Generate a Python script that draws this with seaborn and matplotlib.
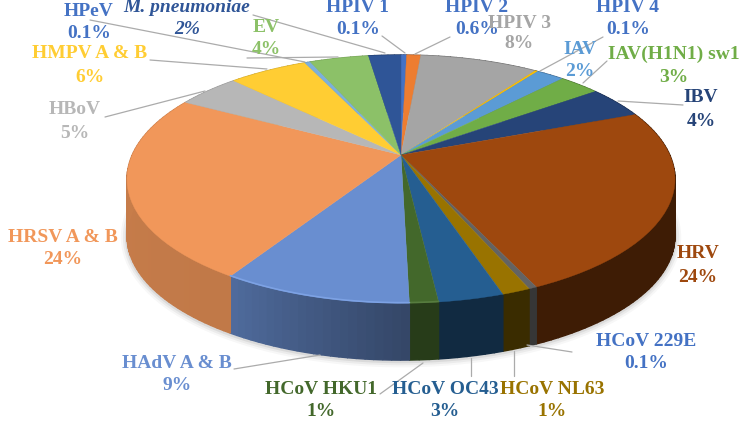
import numpy as np
import matplotlib
matplotlib.use('Agg')
import matplotlib.pyplot as plt
from matplotlib.colors import to_rgb
from matplotlib.transforms import Transform
import seaborn as sns

# slices clockwise from the top, sizes
names = ['HPIV 1', 'HPIV 2', 'HPIV 3', 'HPIV 4', 'IAV', 'IAV(H1N1) sw1', 'IBV', 'HRV',
         'HCoV 229E', 'HCoV NL63', 'HCoV OC43', 'HCoV HKU1', 'HAdV A & B', 'HRSV A & B',
         'HBoV', 'HMPV A & B', 'HPeV', 'EV', 'M. pneumoniae']
sizes = [0.4, 1.0, 8.4, 0.2, 2.0, 2.9, 4.2, 24.1, 0.4, 1.4, 3.2, 1.4, 9.3, 24.1, 4.5, 5.6, 0.4, 4.2, 2.3]
percents = ['0.1%', '0.6%', '8%', '0.1%', '2%', '3%', '4%', '24%', '0.1%', '1%', '3%', '1%',
            '9%', '24%', '5%', '6%', '0.1%', '4%', '2%']

colors = ['#4472C4', '#ED7D31', '#A5A5A5', '#FFC000', '#5B9BD5', '#70AD47', '#264478', '#9E480E',
          '#636363', '#997300', '#255E91', '#43682B', '#698ED0', '#F1975A', '#B7B7B7', '#FFCD33',
          '#7CAFDD', '#8CC168', '#2F5597']
text_colors = ['#4472C4', '#4472C4', '#A5A5A5', '#4472C4', '#5B9BD5', '#70AD47', '#264478', '#9E480E',
               '#4472C4', '#997300', '#255E91', '#43682B', '#698ED0', '#F1975A', '#B7B7B7', '#FFCD33',
               '#4472C4', '#8CC168', '#2F5597']
# how dark the side wall is at the start and end of each slice
wall_start = [.6, .6, .6, .6, .6, .6, .6, .39, .55, .38, .45, .58, .50, .80, .8, .8, .8, .8, .6]
wall_end = [.6, .6, .6, .6, .6, .6, .6, .39, .55, .38, .45, .58, .76, .84, .8, .8, .8, .8, .6]

# label centres in pixels
label_x = [358, 477, 519, 628, 580, 674, 701, 698, 646, 552, 445, 321, 177, 63, 75, 90, 89, 266, 187]
name_y = [7, 7, 23, 7, 49, 54, 98, 254, 341, 389, 389, 389, 363, 237, 110, 54, 11, 27, 7]
pct_y = [30, 30, 44, 30, 72, 77, 121, 277, 363, 412, 412, 412, 385, 259, 133, 77, 33, 49, 30]

leaders = [((382, 405), (36, 53)), ((450, 415), (37, 54)), ((603, 540), (37, 71)),
           ((607, 583), (61, 83)), ((683, 618), (105, 101)), ((572, 527), (352, 345)),
           ((514, 514), (376, 351)), ((471, 471), (376, 358)), ((380, 423), (394, 363)),
           ((234, 320), (369, 355)), ((105, 205), (117, 91)), ((150, 267), (60, 69)),
           ((90, 305), (20, 62)), ((247, 338), (58, 57)), ((253, 385), (15, 53))]

CX, CY = 401, 155
A, B, K = 268.8, 119.4, 0.194
DEPTH = 57


class Tilt(Transform):
    # unit disc -> tilted disc in pixels, back of the pie further away
    input_dims = 2
    output_dims = 2
    is_separable = False
    has_inverse = False

    def transform_non_affine(self, values):
        values = np.asarray(values)
        w = 1 + K * values[:, 1]
        return np.column_stack((CX + A * values[:, 0] / w, CY - B * values[:, 1] / w))


def rim(theta):
    pts = np.column_stack((np.sin(theta), np.cos(theta)))
    return tilt.transform(pts)


def shade(color, f):
    return tuple(c * f for c in to_rgb(color))


sns.set_theme(style='white')
plt.rcParams['font.family'] = ['Liberation Serif', 'DejaVu Serif']

fig = plt.figure(figsize=(7.5, 4.22), dpi=100)
ax = fig.add_axes([0, 0, 1, 1])
tilt = Tilt()

wedges, _ = ax.pie(sizes, colors=colors, startangle=90, counterclock=False,
                   wedgeprops={'linewidth': 0.3, 'zorder': 5})
for i, w in enumerate(wedges):
    w.set_edgecolor(colors[i])
    w.set_transform(tilt + ax.transData)
ax.set_aspect('auto')
ax.set_xlim(0, 750)
ax.set_ylim(422, 0)
ax.set_axis_off()

edges = np.radians(np.concatenate(([0], np.cumsum(sizes))) / sum(sizes) * 360)

# soft shadow under the wall
th = np.radians(np.linspace(75, 285, 200))
p = rim(th)
for lw, alpha in [(9, .03), (6, .05), (3, .08)]:
    ax.plot(p[:, 0], p[:, 1] + DEPTH + 1, color='k', lw=lw, alpha=alpha, zorder=1)

# side wall as thin strips so the shade can change along a slice
for i in range(len(sizes)):
    n = max(2, int(np.degrees(edges[i + 1] - edges[i]) / 1.5))
    th = np.linspace(edges[i], edges[i + 1], n + 1)
    p = rim(th)
    for j in range(n):
        f = wall_start[i] + (wall_end[i] - wall_start[i]) * j / n
        c = shade(colors[i], f)
        ax.fill([p[j, 0], p[j + 1, 0], p[j + 1, 0], p[j, 0]],
                [p[j, 1], p[j + 1, 1], p[j + 1, 1] + DEPTH, p[j, 1] + DEPTH],
                facecolor=c, edgecolor=c, lw=1.0, zorder=2)
    # light edge on the front of the top face
    if edges[i] > np.radians(170) and edges[i + 1] < np.radians(290):
        light = tuple(min(1, c + .08) for c in to_rgb(colors[i]))
        ax.plot(p[:, 0], p[:, 1] - 0.5, color=light, lw=1.2, zorder=6)

for xs, ys in leaders:
    sns.lineplot(x=list(xs), y=list(ys), ax=ax, color='#ABABAB', lw=0.9, sort=False,
                 estimator=None, zorder=7, legend=False)
ax.set_xlim(0, 750)
ax.set_ylim(422, 0)
ax.set_axis_off()

for i, name in enumerate(names):
    style = 'italic' if name.startswith('M.') else 'normal'
    ax.text(label_x[i], name_y[i], name, color=text_colors[i], ha='center', va='center',
            fontsize=14, fontweight='bold', fontstyle=style, zorder=8)
    ax.text(label_x[i], pct_y[i], percents[i], color=text_colors[i], ha='center', va='center',
            fontsize=14, fontweight='bold', fontstyle=style, zorder=8)

fig.savefig('out.png', dpi=100)
